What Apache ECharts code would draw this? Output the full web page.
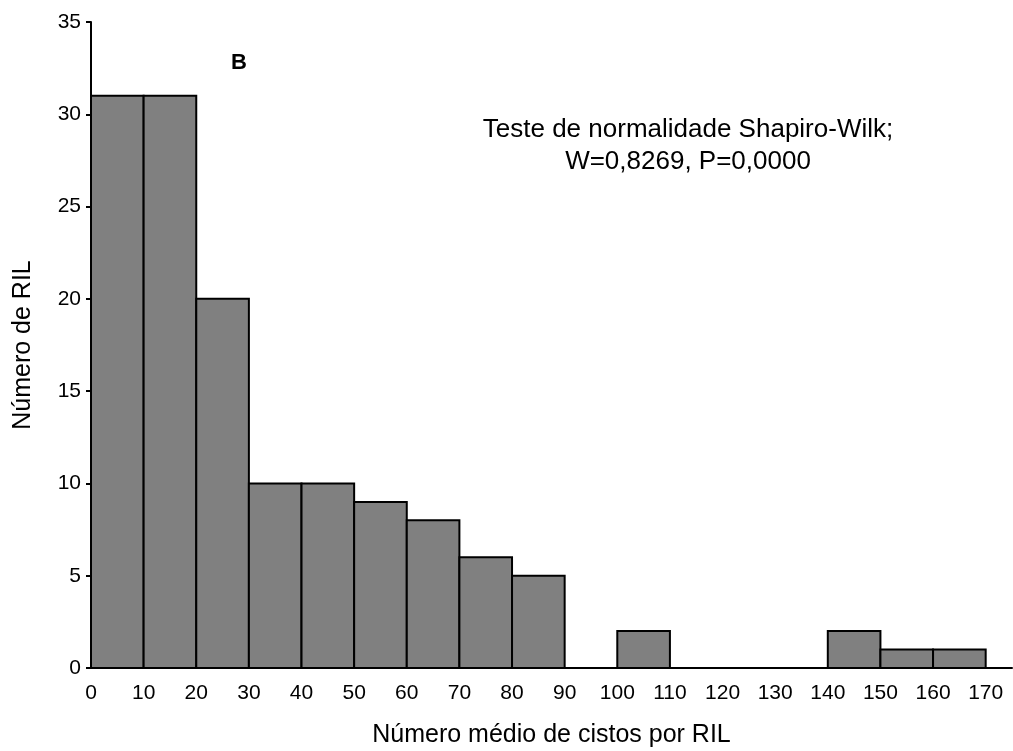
<!DOCTYPE html>
<html>
<head>
<meta charset="utf-8">
<script src="https://cdn.jsdelivr.net/npm/echarts@6/dist/echarts.min.js"></script>
<style>
  html, body { margin: 0; padding: 0; background: #fff; }
  #chart-container { width: 1013px; height: 751px; }
</style>
</head>
<body>
<div id="chart-container"></div>
<script>
// histogram bins (lower edge, upper edge) and counts
var binStart = [0, 10, 20, 30, 40, 50, 60, 70, 80, 90, 100, 110, 120, 130, 140, 150, 160];
var binEnd = [10, 20, 30, 40, 50, 60, 70, 80, 90, 100, 110, 120, 130, 140, 150, 160, 170];
var counts = [31, 31, 20, 10, 10, 9, 8, 6, 5, 0, 2, 0, 0, 0, 2, 1, 1];
var xTicks = [0, 10, 20, 30, 40, 50, 60, 70, 80, 90, 100, 110, 120, 130, 140, 150, 160, 170];

var dom = document.getElementById('chart-container');
var myChart = echarts.init(dom, null, { renderer: 'canvas' });

var data = counts.map(function (c, i) {
  return [binStart[i], binEnd[i], c];
});

var font = 'Arial, "Liberation Sans", sans-serif';

var option = {
  animation: false,
  grid: { left: 91, right: 1, top: 22, bottom: 83, outerBoundsMode: 'none', containLabel: false },
  xAxis: {
    type: 'value',
    min: 0,
    max: 175,
    interval: 10,
    name: 'Número médio de cistos por RIL',
    nameLocation: 'middle',
    nameGap: 55,
    nameTextStyle: { fontFamily: font, fontSize: 25, color: '#000' },
    axisLine: { show: true, lineStyle: { color: '#000', width: 2 } },
    axisTick: { show: false },
    splitLine: { show: false },
    axisLabel: {
      fontFamily: font, fontSize: 21, color: '#000', margin: 15,
      formatter: function (v) { return xTicks.indexOf(v) >= 0 ? String(v) : ''; }
    }
  },
  yAxis: {
    type: 'value',
    min: 0,
    max: 35,
    interval: 5,
    name: 'Número de RIL',
    nameLocation: 'middle',
    nameGap: 55,
    nameTextStyle: { fontFamily: font, fontSize: 25, color: '#000' },
    axisLine: { show: true, lineStyle: { color: '#000', width: 2 } },
    axisTick: { show: true, length: 5, lineStyle: { color: '#000', width: 2 } },
    splitLine: { show: false },
    axisLabel: { fontFamily: font, fontSize: 21, color: '#000', margin: 10 }
  },
  graphic: [
    {
      type: 'text', left: 231, top: 52,
      style: { text: 'B', fontFamily: font, fontSize: 22, fontWeight: 'bold', fill: '#000' }
    },
    {
      type: 'text', x: 688, y: 114,
      style: {
        text: 'Teste de normalidade Shapiro-Wilk;\nW=0,8269, P=0,0000',
        align: 'center', fontFamily: font, fontSize: 26, lineHeight: 32, fill: '#000'
      }
    }
  ],
  series: [
    {
      type: 'custom',
      data: data,
      encode: { x: [0, 1], y: 2 },
      renderItem: function (params, api) {
        var v = api.value(2);
        if (!v) return null;
        var p0 = api.coord([api.value(0), 0]);
        var p1 = api.coord([api.value(1), v]);
        return {
          type: 'rect',
          shape: { x: p0[0], y: p1[1], width: p1[0] - p0[0], height: p0[1] - p1[1] },
          style: { fill: '#808080', stroke: '#000', lineWidth: 2 }
        };
      }
    }
  ]
};

myChart.setOption(option);
window.addEventListener('resize', myChart.resize);
</script>
</body>
</html>
